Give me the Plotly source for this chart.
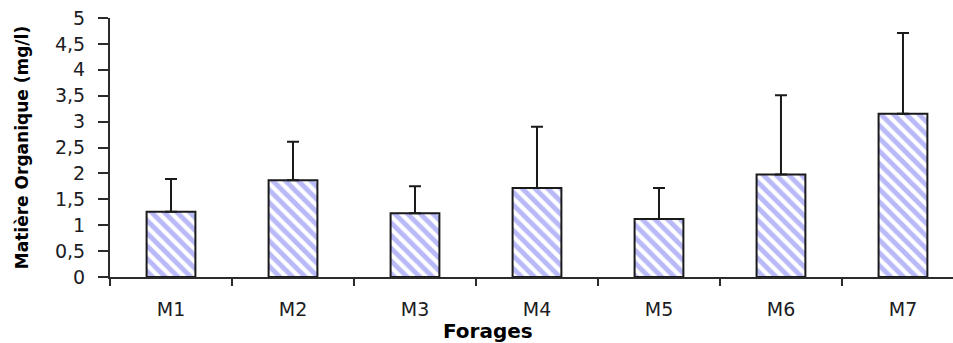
import plotly.graph_objects as go

# Organic matter per borehole (mean and standard deviation, mg/l)
forages = ["M1", "M2", "M3", "M4", "M5", "M6", "M7"]
moyenne = [1.26, 1.87, 1.23, 1.72, 1.12, 1.98, 3.15]
ecart_type = [0.63, 0.74, 0.52, 1.18, 0.60, 1.53, 1.56]
y_ticks = [0, 0.5, 1, 1.5, 2, 2.5, 3, 3.5, 4, 4.5, 5]

axis_color = "#2b2b2b"
text_color = "#1c1c24"

fig = go.Figure(
    go.Bar(
        x=forages,
        y=moyenne,
        width=0.4,
        marker=dict(
            color="white",
            line=dict(color="#1a1a1a", width=2),
            pattern=dict(shape="\\", fgcolor="#7474f2", bgcolor="white",
                         size=9, solidity=0.55),
        ),
        error_y=dict(
            type="data",
            symmetric=False,
            array=ecart_type,
            arrayminus=[0] * len(ecart_type),
            color="#1a1a1a",
            thickness=2,
            width=6,
        ),
    )
)

fig.update_layout(
    width=953,
    height=343,
    margin=dict(l=110, r=0, t=18, b=66),
    paper_bgcolor="white",
    plot_bgcolor="white",
    separators=", ",
    showlegend=False,
    bargap=0.6,
    annotations=[
        dict(
            text="Forages",
            xref="paper", yref="paper",
            x=(488 - 110) / 843, y=-0.21,
            xanchor="center", yanchor="middle",
            showarrow=False,
            font=dict(family="DejaVu Sans", size=20, weight="bold", color="black"),
        )
    ],
)

fig.update_xaxes(
    range=[-0.5, 6.41],
    showline=True,
    linecolor=axis_color,
    linewidth=2,
    ticks="outside",
    tickson="boundaries",
    ticklen=7,
    tickwidth=2,
    tickcolor=axis_color,
    showgrid=False,
    ticklabelstandoff=14,
    tickfont=dict(family="DejaVu Sans", size=19, color=text_color),
)

fig.update_yaxes(
    range=[0, 5],
    tickvals=y_ticks,
    showline=True,
    linecolor=axis_color,
    linewidth=2,
    ticks="outside",
    ticklen=10,
    tickwidth=2,
    tickcolor=axis_color,
    showgrid=False,
    zeroline=False,
    ticklabelstandoff=9,
    tickfont=dict(family="DejaVu Sans", size=19, color=text_color),
    title=dict(text="Matière Organique (mg/l)", standoff=22,
               font=dict(family="DejaVu Sans", size=17, weight="bold", color="black")),
)

fig.write_html("out.html")
